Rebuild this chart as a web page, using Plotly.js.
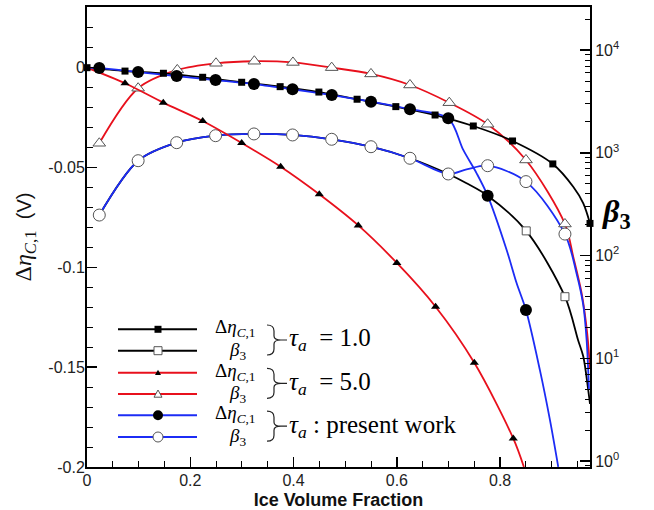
<!DOCTYPE html>
<html>
<head>
<meta charset="utf-8">
<script src="https://cdn.plot.ly/plotly-3.0.1.min.js"></script>
<style>
  html, body { margin: 0; padding: 0; background: #fff; }
  #plot { width: 654px; height: 510px; }
</style>
</head>
<body>
<div id="plot"></div>
<script>
// ---- tau_a = 1.0 : cell voltage change (left axis) ----
const tau1EtaMarkX = [0, 0.0736, 0.148, 0.224, 0.2995, 0.374, 0.449, 0.523, 0.598, 0.674, 0.748, 0.824, 0.902, 0.974];
const tau1EtaMarkY = [0, -0.0017, -0.0028, -0.0048, -0.0073, -0.0095, -0.0122, -0.0158, -0.0195, -0.0237, -0.0292, -0.0367, -0.0482, -0.078];
const tau1EtaExtraX = [0.9415, 0.961];
const tau1EtaExtraY = [-0.0596, -0.0679];

// ---- tau_a = 1.0 : beta_3 (right axis) ----
const tau1BetaMarkX = [0.0238, 0.099, 0.1737, 0.249, 0.3233, 0.398, 0.4738, 0.5499, 0.6254, 0.6995, 0.7758, 0.8505, 0.9255];
const tau1BetaMarkY = [248, 839, 1257, 1470, 1528, 1494, 1356, 1148, 886, 623, 383, 174, 39.8];
const tau1BetaExtraX = [0.735, 0.951, 0.961, 0.9706, 0.974];
const tau1BetaExtraY = [506, 15, 10.4, 4.9, 3.6];

// ---- tau_a = 5.0 : cell voltage change (left axis) ----
const tau5EtaMarkX = [0.0736, 0.1477, 0.224, 0.2995, 0.375, 0.4498, 0.5253, 0.600, 0.675, 0.750, 0.8254];
const tau5EtaMarkY = [-0.0078, -0.0175, -0.0267, -0.0377, -0.0496, -0.0634, -0.0790, -0.0978, -0.1197, -0.1478, -0.1857];
const tau5EtaExtraX = [0, 0.846];
const tau5EtaExtraY = [0, -0.2];

// ---- tau_a = 5.0 : beta_3 (right axis) ----
const tau5BetaMarkX = [0.0238, 0.099, 0.1748, 0.2498, 0.324, 0.3988, 0.4738, 0.5499, 0.6254, 0.7015, 0.7758, 0.850, 0.9255];
const tau5BetaMarkY = [1240, 4260, 6420, 7450, 7800, 7590, 6760, 5870, 4580, 3080, 1900, 853, 203];
const tau5BetaExtraX = [0.9415, 0.9578, 0.9686, 0.974];
const tau5BetaExtraY = [97.5, 43, 17.5, 8];

// ---- present work : cell voltage change (left axis) ----
const presEtaMarkX = [0.0238, 0.099, 0.1737, 0.249, 0.3233, 0.398, 0.474, 0.5499, 0.6254, 0.6995, 0.7758, 0.850];
const presEtaMarkY = [-0.0002, -0.0022, -0.0042, -0.0062, -0.0082, -0.0108, -0.0137, -0.0170, -0.0208, -0.0253, -0.0641, -0.1214];
const presEtaExtraX = [0, 0.7286, 0.7545, 0.8126, 0.832, 0.877, 0.8964, 0.9125];
const presEtaExtraY = [0, -0.0412, -0.0529, -0.0913, -0.108, -0.1515, -0.1764, -0.1999];

// ---- present work : beta_3 (right axis) ----
const presBetaMarkX = [0.0238, 0.099, 0.1737, 0.249, 0.3233, 0.398, 0.4738, 0.5499, 0.6254, 0.6995, 0.7758, 0.850, 0.9255];
const presBetaMarkY = [248, 839, 1257, 1470, 1528, 1494, 1356, 1148, 886, 623, 750, 525, 162];
const presBetaExtraX = [0.735, 0.948, 0.961, 0.9675, 0.972];
const presBetaExtraY = [690, 67, 33, 15, 5];

// ---- tick labels ----
const xTickVals = [0, 0.2, 0.4, 0.6, 0.8];
const xTickText = ['0', '0.2', '0.4', '0.6', '0.8'];
const etaTickVals = [-0.2, -0.15, -0.1, -0.05, 0];
const etaTickText = ['-0.2', '-0.15', '-0.1', '-0.05', '0'];
const betaTickVals = [1, 10, 100, 1000, 10000];
const betaTickText = ['10<sup>0</sup>', '10<sup>1</sup>', '10<sup>2</sup>', '10<sup>3</sup>', '10<sup>4</sup>'];

// merge marker points and in-between curve points into one sorted path
function curve(mx, my, ex, ey) {
  const pts = mx.map((v, i) => [v, my[i]]).concat(ex.map((v, i) => [v, ey[i]]));
  pts.sort((a, b) => a[0] - b[0]);
  return { x: pts.map(p => p[0]), y: pts.map(p => p[1]) };
}

const BLACK = '#000000', RED = '#e8101c', BLUE = '#1c2cf5', OUTL = '#555555';

// beta_3 curves first (lower layer), voltage curves on the overlaid axis above them
const series = [
  { mx: tau1BetaMarkX, my: tau1BetaMarkY, ex: tau1BetaExtraX, ey: tau1BetaExtraY, ax: 'y2', color: BLACK,
    marker: { symbol: 'square', size: 8, color: '#fff', line: { width: 1, color: OUTL } } },
  { mx: tau5BetaMarkX, my: tau5BetaMarkY, ex: tau5BetaExtraX, ey: tau5BetaExtraY, ax: 'y2', color: RED,
    marker: { symbol: 'triangle-up', size: 11, color: '#fff', line: { width: 1, color: OUTL } } },
  { mx: presBetaMarkX, my: presBetaMarkY, ex: presBetaExtraX, ey: presBetaExtraY, ax: 'y2', color: BLUE,
    marker: { symbol: 'circle', size: 12, color: '#fff', line: { width: 1, color: OUTL } } },
  { mx: tau1EtaMarkX, my: tau1EtaMarkY, ex: tau1EtaExtraX, ey: tau1EtaExtraY, ax: 'y', color: BLACK,
    marker: { symbol: 'square', size: 7, color: '#000', line: { width: 0 } } },
  { mx: tau5EtaMarkX, my: tau5EtaMarkY, ex: tau5EtaExtraX, ey: tau5EtaExtraY, ax: 'y', color: RED,
    marker: { symbol: 'triangle-up', size: 8, color: '#000', line: { width: 0 } } },
  { mx: presEtaMarkX, my: presEtaMarkY, ex: presEtaExtraX, ey: presEtaExtraY, ax: 'y', color: BLUE,
    marker: { symbol: 'circle', size: 12, color: '#000', line: { width: 0 } } }
];

const traces = [];
['y2', 'y'].forEach(axName => {
  const group = series.filter(s => s.ax === axName);
  group.forEach(s => {
    const c = curve(s.mx, s.my, s.ex, s.ey);
    traces.push({ type: 'scatter', mode: 'lines', x: c.x, y: c.y, yaxis: s.ax,
      line: { color: s.color, width: 1.8, shape: 'spline', smoothing: 0.9 },
      hoverinfo: 'skip', showlegend: false });
  });
  group.forEach(s => {
    traces.push({ type: 'scatter', mode: 'markers', x: s.mx, y: s.my, yaxis: s.ax,
      marker: s.marker, cliponaxis: false, hoverinfo: 'skip', showlegend: false });
  });
});

// plot-area pixel helpers for the hand-built key
const PL = 87, PR = 590, PT = 7, PB = 467;
const fx = p => (p - PL) / (PR - PL);
const fy = p => (PB - p) / (PB - PT);

const shapes = [];
const annotations = [];

const keyRows = [
  { y: 329.3, color: BLACK, sym: 'sq', fill: '#000', size: 7 },
  { y: 350.7, color: BLACK, sym: 'sq', fill: '#fff', size: 8 },
  { y: 372.7, color: RED, sym: 'tri', fill: '#000', size: 6 },
  { y: 394.0, color: RED, sym: 'tri', fill: '#fff', size: 8 },
  { y: 415.3, color: BLUE, sym: 'ci', fill: '#000', size: 10 },
  { y: 437.0, color: BLUE, sym: 'ci', fill: '#fff', size: 10 }
];
keyRows.forEach(r => {
  shapes.push({ type: 'line', xref: 'paper', yref: 'paper', x0: fx(118), x1: fx(197), y0: fy(r.y), y1: fy(r.y),
    line: { color: r.color, width: 2 } });
});
keyRows.forEach(r => {
  const h = r.size / 2;
  const ln = r.fill === '#fff' ? { color: OUTL, width: 1 } : { width: 0 };
  const base = { xref: 'paper', yref: 'paper', xsizemode: 'pixel', ysizemode: 'pixel',
    xanchor: fx(158), yanchor: fy(r.y), fillcolor: r.fill, line: ln };
  if (r.sym === 'sq') shapes.push(Object.assign({ type: 'rect', x0: -h, x1: h, y0: -h, y1: h }, base));
  else if (r.sym === 'ci') shapes.push(Object.assign({ type: 'circle', x0: -h, x1: h, y0: -h, y1: h }, base));
  else shapes.push(Object.assign({ type: 'path', path: `M ${-h} ${-h * 0.8} L ${h} ${-h * 0.8} L 0 ${h * 1.0} Z` }, base));
});

const serif = 'Liberation Serif, Times New Roman, serif';
const NB = '\u00a0';
const etaLabel = 'Δ<i>η</i><sub><i>C</i>,1</sub>';
const betaLabel = '<i>β</i><sub>3</sub>';
const groupLabels = [
  '<i>τ</i><sub><i>a</i></sub>' + NB + NB + '=' + NB + '1.0',
  '<i>τ</i><sub><i>a</i></sub>' + NB + NB + '=' + NB + '5.0',
  '<i>τ</i><sub><i>a</i></sub>' + NB + ':' + NB + 'present work'
];
for (let g = 0; g < 3; g++) {
  const yTop = keyRows[2 * g].y, yBot = keyRows[2 * g + 1].y, yMid = (yTop + yBot) / 2;
  annotations.push({ xref: 'paper', yref: 'paper', x: fx(213), y: fy(yTop - 1), xanchor: 'left', yanchor: 'middle',
    text: etaLabel, showarrow: false, font: { family: serif, size: 19, color: '#000' } });
  annotations.push({ xref: 'paper', yref: 'paper', x: fx(227), y: fy(yBot), xanchor: 'left', yanchor: 'middle',
    text: betaLabel, showarrow: false, font: { family: serif, size: 19, color: '#000' } });
  // curly brace joining the pair
  shapes.push({ type: 'path', xref: 'paper', yref: 'paper', xsizemode: 'pixel', ysizemode: 'pixel',
    xanchor: fx(267), yanchor: fy(yMid),
    path: 'M 0 15 Q 7 15 7 9 L 7 4 Q 7 0 14 0 Q 7 0 7 -4 L 7 -9 Q 7 -15 0 -15 M 14 0 L 20 0',
    line: { color: '#222', width: 1.2 } });
  annotations.push({ xref: 'paper', yref: 'paper', x: fx(287), y: fy(yMid), xanchor: 'left', yanchor: 'middle',
    text: groupLabels[g], showarrow: false, font: { family: serif, size: 25, color: '#000' } });
}

// right-hand axis title
annotations.push({ xref: 'paper', yref: 'paper', x: fx(616), y: fy(214), xanchor: 'center', yanchor: 'middle',
  text: '<b><i>β</i></b><sub><b>3</b></sub>', showarrow: false, font: { family: serif, size: 32, color: '#000' } });

const tickFont = { family: 'Liberation Sans, Arial, sans-serif', size: 16, color: '#222' };
const axisCommon = { showgrid: false, zeroline: false, showline: true, linecolor: '#000', linewidth: 2,
  ticks: 'inside', ticklen: 10, tickwidth: 1.5, tickcolor: '#000', tickfont: tickFont };

const layout = {
  width: 654, height: 510,
  margin: { l: PL, r: 654 - PR, t: PT, b: 510 - PB },
  paper_bgcolor: '#fff', plot_bgcolor: '#fff',
  showlegend: false,
  xaxis: Object.assign({}, axisCommon, {
    range: [0, 0.974], mirror: true, anchor: 'y2',
    ticklabelstandoff: -2,
    tickmode: 'array', tickvals: xTickVals, ticktext: xTickText,
    minor: { dtick: 0.05, tick0: 0, ticks: 'inside', ticklen: 6, tickwidth: 1, tickcolor: '#000' },
    title: { text: '<b>Ice Volume Fraction</b>', font: { family: 'Liberation Sans, Arial, sans-serif', size: 18, color: '#111' }, standoff: 8 }
  }),
  yaxis2: Object.assign({}, axisCommon, {
    type: 'log', range: [-0.058, 4.42], side: 'right', anchor: 'x',
    tickmode: 'array', tickvals: betaTickVals, ticktext: betaTickText,
    minor: { dtick: 'D1', ticks: 'inside', ticklen: 5, tickwidth: 1, tickcolor: '#000' }
  }),
  yaxis: Object.assign({}, axisCommon, {
    range: [-0.2, 0.0304], overlaying: 'y2', side: 'left', anchor: 'x',
    ticklabelstandoff: -3,
    tickmode: 'array', tickvals: etaTickVals, ticktext: etaTickText,
    minor: { dtick: 0.01, tick0: 0, ticks: 'inside', ticklen: 6, tickwidth: 1, tickcolor: '#000' },
    title: { text: '<span style="font-family:Liberation Serif;font-size:24px">Δ<i>η</i><sub><i>C</i>,1</sub></span><span style="font-size:20px">' + NB + NB + '(V)</span>',
      font: { family: 'Liberation Sans, Arial, sans-serif', size: 20, color: '#111' }, standoff: 11 }
  }),
  shapes: shapes,
  annotations: annotations
};

Plotly.newPlot('plot', traces, layout, { staticPlot: true });
</script>
</body>
</html>
